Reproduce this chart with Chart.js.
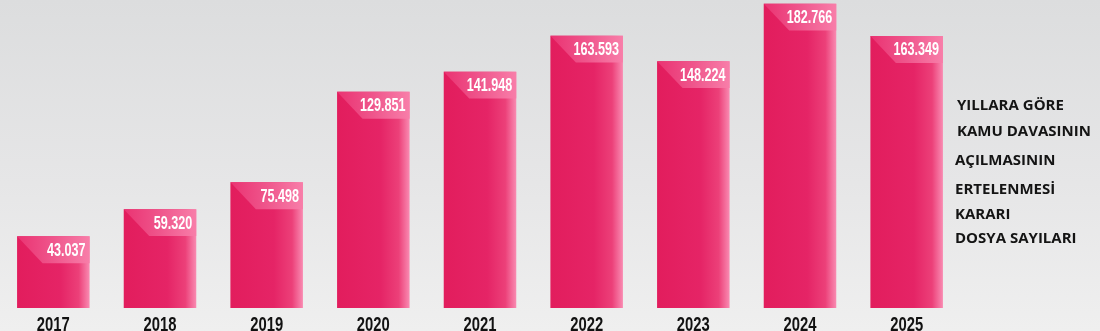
<!DOCTYPE html>
<html>
<head>
<meta charset="utf-8">
<script src="https://cdn.jsdelivr.net/npm/chart.js@4"></script>
<style>
  html, body { margin: 0; padding: 0; }
  body {
    width: 1100px; height: 331px; overflow: hidden; position: relative;
    background: linear-gradient(to bottom, #dcddde 0%, #e6e6e7 55%, #efefef 100%);
  }
  #wrap { position: absolute; left: 0; top: 0; width: 1100px; height: 331px; }
  .title {
    position: absolute; left: 955px; font-family: "Open Sans", Lato, sans-serif;
    font-weight: 700; font-size: 15px; color: #141414; line-height: 18px; white-space: nowrap;
  }
</style>
</head>
<body>
<div id="wrap"><canvas id="chart"></canvas></div>
<div class="title" style="top:95px;left:957px">YILLARA GÖRE</div>
<div class="title" style="top:121px;left:957px">KAMU DAVASININ</div>
<div class="title" style="top:150px">AÇILMASININ</div>
<div class="title" style="top:179px">ERTELENMESİ</div>
<div class="title" style="top:204px">KARARI</div>
<div class="title" style="top:228px">DOSYA SAYILARI</div>
<script>
// yillar ve dosya sayilari
const years = ['2017', '2018', '2019', '2020', '2021', '2022', '2023', '2024', '2025'];
const dosyaSayilari = [43037, 59320, 75498, 129851, 141948, 163593, 148224, 182766, 163349];
const yMax = 185000;
const barPct = 0.68;

// 163593 -> "163.593"
function fmt(v) {
    return String(v).replace(/\B(?=(\d{3})+(?!\d))/g, '.');
}

// condensed text: squeeze horizontally
function narrowText(c, txt, x, y, sx) {
    c.save();
    c.translate(x, y);
    c.scale(sx, 1);
    c.fillText(txt, 0, 0);
    c.restore();
}

// bar fill: pink with a lighter right edge
function barFill(ctx) {
    const chart = ctx.chart;
    const xs = chart.scales.x;
    if (!chart.chartArea || !xs) return '#e42063';
    const cx = xs.getPixelForValue(ctx.dataIndex);
    const w = xs.width / years.length * barPct;
    const g = chart.ctx.createLinearGradient(cx - w / 2, 0, cx + w / 2, 0);
    g.addColorStop(0, '#e21d5d');
    g.addColorStop(0.6, '#e52466');
    g.addColorStop(0.85, '#ec4079');
    g.addColorStop(1, '#f98bb2');
    return g;
}

// light tag at the top of each bar with the value, and year labels under the axis
const tagPlugin = {
    id: 'tags',
    afterDatasetsDraw(chart) {
        const c = chart.ctx;
        const xs = chart.scales.x;
        const meta = chart.getDatasetMeta(0);
        meta.data.forEach((bar, i) => {
            const p = bar.getProps(['x', 'y', 'width'], true);
            const left = p.x - p.width / 2, right = p.x + p.width / 2;
            const h = p.width * 0.37;
            c.save();
            const g = c.createLinearGradient(left, 0, right, 0);
            g.addColorStop(0, '#ea3372');
            g.addColorStop(0.5, '#ef568c');
            g.addColorStop(1, '#f87ea9');
            c.fillStyle = g;
            c.beginPath();
            c.moveTo(left, p.y);
            c.lineTo(right, p.y);
            c.lineTo(right, p.y + h);
            c.lineTo(left + h * 0.95, p.y + h);
            c.closePath();
            c.fill();
            c.fillStyle = '#ffffff';
            c.font = "bold 18px 'Liberation Sans', Arial, sans-serif";
            c.textAlign = 'right';
            c.textBaseline = 'middle';
            narrowText(c, fmt(dosyaSayilari[i]), right - 4, p.y + h / 2 + 1, 0.7);
            c.restore();
        });
        // year labels
        c.save();
        c.fillStyle = '#111111';
        c.font = "bold 20px 'Liberation Sans', Arial, sans-serif";
        c.textAlign = 'center';
        c.textBaseline = 'alphabetic';
        years.forEach((yr, i) => {
            narrowText(c, yr, xs.getPixelForValue(i), chart.chartArea.bottom + 23, 0.74);
        });
        c.restore();
    }
};

new Chart(document.getElementById('chart'), {
    type: 'bar',
    data: {
        labels: years,
        datasets: [{
            data: dosyaSayilari,
            backgroundColor: barFill,
            borderWidth: 0,
            categoryPercentage: 1,
            barPercentage: barPct
        }]
    },
    options: {
        responsive: true,
        maintainAspectRatio: false,
        animation: false,
        layout: { padding: { left: 0, right: 140, top: 0, bottom: 23 } },
        plugins: { legend: { display: false }, tooltip: { enabled: false } },
        scales: {
            x: {
                display: false,
                grid: { display: false }
            },
            y: {
                display: false,
                min: 0,
                max: yMax
            }
        }
    },
    plugins: [tagPlugin]
});
</script>
</body>
</html>
